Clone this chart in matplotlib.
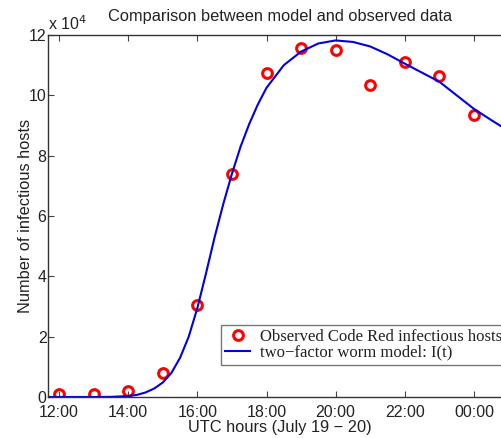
import numpy as np
import matplotlib
matplotlib.use("Agg")
import matplotlib.pyplot as plt

# observed Code Red infectious hosts (hourly, UTC July 19-20)
obs_hours = [12, 13, 14, 15, 16, 17, 18, 19, 20, 21, 22, 23, 24]
obs_hosts = [1000, 1000, 2000, 8000, 30500, 74000, 107500, 115700,
             115000, 103500, 111000, 106500, 93500]

# two-factor worm model I(t)
model_hours = [11.68, 12, 12.5, 13, 13.5, 14, 14.25, 14.5, 14.75, 15, 15.25,
               15.5, 15.75, 16, 16.25, 16.5, 16.75, 17, 17.25, 17.5, 17.75,
               18, 18.5, 19, 19.5, 20, 20.5, 21, 21.5, 22, 22.5, 23, 23.5,
               24, 24.5, 25.1]
model_hosts = [0, 0, 0, 0, 50, 300, 700, 1500, 2800, 4800, 8000,
               13000, 20000, 29500, 41000, 53000, 64000, 74000, 83000, 90500, 97000,
               102500, 110000, 114500, 117200, 118200, 117700, 116200, 113600, 110500,
               107500, 104500, 100000, 95500, 91800, 87500]

tick_hours = [12, 14, 16, 18, 20, 22, 24]
tick_labels = ["12:00", "14:00", "16:00", "18:00", "20:00", "22:00", "00:00"]

plt.rcParams["font.family"] = ["Liberation Sans", "DejaVu Sans"]
txt = "#222222"

fig = plt.figure(figsize=(5.01, 4.38), dpi=100)
ax = fig.add_axes([48 / 501, 41 / 438, 464 / 501, 362 / 438])

scale = 1e4
ax.plot(obs_hours, np.array(obs_hosts) / scale, "o", mfc="none", mec="red",
        ms=7, mew=2.2, label="Observed Code Red infectious hosts")
ax.plot(model_hours, np.array(model_hosts) / scale, "-", color="#0000e0",
        lw=1.5, label="two\u2212factor worm model: I(t)")

ax.set_xlim(11.68, 25.1)
ax.set_ylim(0, 12)
ax.set_xticks(tick_hours)
ax.set_xticklabels(tick_labels)
ax.set_yticks([0, 2, 4, 6, 8, 10, 12])
ax.tick_params(direction="in", top=True, right=True, length=4, width=0.8,
               labelsize=11.5, colors="#444444", labelcolor=txt, pad=5.5)
ax.tick_params(axis="y", pad=1)
for s in ax.spines.values():
    s.set_color("#333333")
    s.set_linewidth(1.0)

ax.set_xlabel("UTC hours (July 19 \u2212 20)", fontsize=11.8, color=txt, labelpad=0)
ax.set_ylabel("Number of infectious hosts", fontsize=11.8, color=txt, labelpad=-3)
ax.set_title("Comparison between model and observed data", fontsize=11.8,
             color=txt, pad=10)
ax.text(0.0, 1.006, "x 10$^4$", transform=ax.transAxes, fontsize=11.5,
        color=txt, ha="left", va="bottom")

leg = ax.legend(loc="lower left", bbox_to_anchor=(173 / 464, 32 / 362),
                borderaxespad=0, fancybox=False, frameon=True,
                prop={"family": ["Liberation Serif", "DejaVu Serif"], "size": 12},
                handlelength=1.5, handletextpad=0.6, borderpad=0.25,
                labelspacing=0.0, markerscale=1.0)
leg.get_frame().set_edgecolor("#555555")
leg.get_frame().set_linewidth(1.0)
for t in leg.get_texts():
    t.set_color(txt)

fig.savefig("out.png", dpi=100)
